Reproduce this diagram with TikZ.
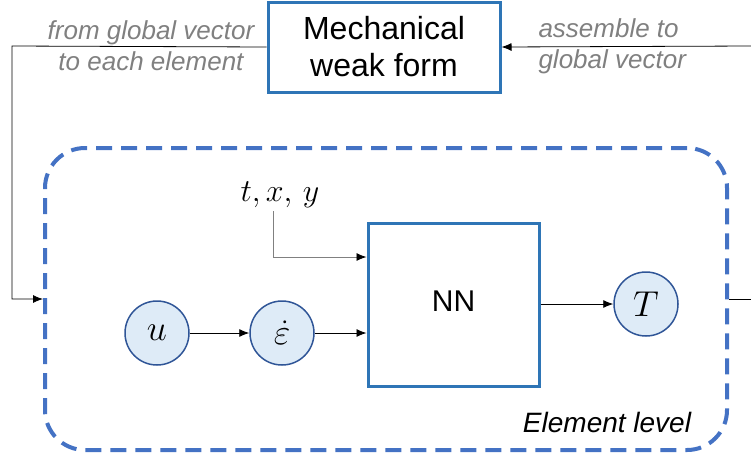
\RequirePackage{fix-cm}
\documentclass[tikz,border=0pt]{standalone}
\usepackage{amsmath,amssymb}
\usepackage{fontspec}
\setmainfont{Liberation Sans}
\usetikzlibrary{arrows.meta}

\definecolor{boxblue}{HTML}{2E75B6}
\definecolor{dashblue}{HTML}{4472C4}
\definecolor{circblue}{HTML}{2F5597}
\definecolor{circfill}{HTML}{DEEBF7}
\definecolor{notegray}{HTML}{808080}

\tikzset{
    blockbox/.style={draw=boxblue,line width=3pt,fill=white,inner sep=0pt},
    varcirc/.style={circle,draw=circblue,line width=1.5pt,fill=circfill,minimum size=64pt,inner sep=0pt,font=\fontsize{36}{40}\selectfont},
    conn/.style={line width=0.8pt,-{Latex[length=10pt,width=8pt,color=black]}},
    gconn/.style={conn,draw=notegray},
    note/.style={text=notegray,font=\fontsize{26}{31}\selectfont\itshape}
}

\begin{document}
\begin{tikzpicture}[x=1pt,y=-1pt]
        % fix the margins of the picture
        \useasboundingbox (0,0) rectangle (751,456);

        % element level frame (dashed)
        \node[draw=dashblue,line width=4pt,dash pattern=on 16pt off 9pt,rounded corners=40pt,
              minimum width=682pt,minimum height=302pt] (elem) at (386,299) {};
        \node[font=\fontsize{28}{32}\selectfont\itshape] (elemlbl) at (607,422) {Element level};

        % global weak form on top
        \node[blockbox,minimum width=232pt,minimum height=90pt,align=center,
              font=\fontsize{32}{37}\selectfont] (mech) at (384,47) {Mechanical\\weak form};

        % network box
        \node[blockbox,minimum width=171pt,minimum height=163pt,
              font=\fontsize{30}{34}\selectfont] (nn) at (453.5,304.5) {\raisebox{7pt}{NN}};

        % variables
        \node[varcirc] (u) at (157,333) {$u$};
        \node[varcirc] (epsdot) at (282,333) {$\dot{\varepsilon}$};
        \node[varcirc] (T) at (646,304) {$T$};
        \node[font=\fontsize{32}{36}\selectfont] (txy) at (280,195) {$t,x,\,y$};

        % notes at the global level
        \node[note,align=center] (scatter) at (151,46) {from global vector\\to each element};
        \node[note,align=left,anchor=west] (assemble) at (535,46) {assemble to\\global vector};

        % free ends of the global connectors
        \coordinate (lcorner) at (12,46);
        \coordinate (rin) at (751,46);
        \coordinate (rout) at (751,299);

        % global -> element
        \draw[conn] (mech.west) -- (lcorner) |- (elem.west);
        % element -> global
        \draw[line width=0.8pt] (elem.east) -- (rout);
        \draw[conn] (rin) -- (mech.east);

        % inside the element
        \draw[gconn] ([xshift=-7pt]txy.south) |- ([yshift=47.5pt]nn.west);
        \draw[conn] (u) -- (epsdot);
        \draw[conn] (epsdot) -- (epsdot -| nn.west);
        \draw[conn] (T -| nn.east) -- (T);
\end{tikzpicture}
\end{document}
